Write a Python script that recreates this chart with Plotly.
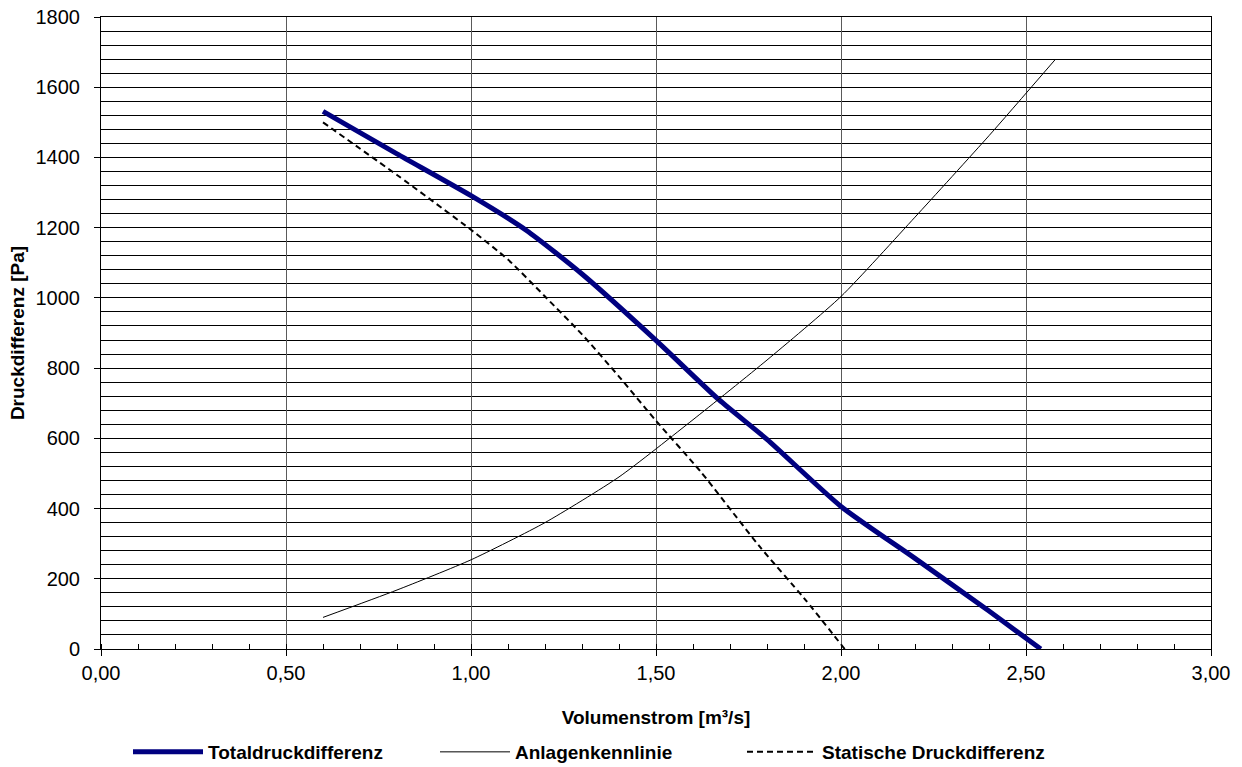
import plotly.graph_objects as go

# Totaldruckdifferenz
vol_total = [0.60, 0.80, 1.00, 1.15, 1.30, 1.50, 1.67, 1.80, 2.00, 2.20, 2.40, 2.54]
p_total = [1531, 1410, 1291, 1192, 1068, 879, 710, 597, 406, 258, 108, 0]

# Anlagenkennlinie
vol_anlage = [0.60, 0.80, 1.00, 1.20, 1.40, 1.60, 1.80, 2.00, 2.20, 2.40, 2.58]
p_anlage = [90, 168, 254, 360, 490, 653, 823, 1004, 1230, 1462, 1680]

# Statische Druckdifferenz
vol_static = [0.60, 0.80, 1.00, 1.10, 1.20, 1.30, 1.40, 1.50, 1.62, 1.78, 1.90, 2.01]
p_static = [1500, 1350, 1194, 1109, 1004, 896, 776, 650, 506, 292, 145, 0]

x_ticks = [0.0, 0.5, 1.0, 1.5, 2.0, 2.5, 3.0]
x_ticklabels = ["0,00", "0,50", "1,00", "1,50", "2,00", "2,50", "3,00"]

FONT = "Liberation Sans, Arial, sans-serif"

fig = go.Figure()
fig.add_trace(go.Scatter(x=vol_total, y=p_total, mode="lines", name="Totaldruckdifferenz",
                         line=dict(color="#000080", width=5, shape="spline", smoothing=0.6)))
fig.add_trace(go.Scatter(x=vol_anlage, y=p_anlage, mode="lines", name="Anlagenkennlinie",
                         line=dict(color="#000000", width=1, shape="spline", smoothing=0.6)))
fig.add_trace(go.Scatter(x=vol_static, y=p_static, mode="lines", name="Statische Druckdifferenz",
                         line=dict(color="#000000", width=2, dash="6px,4px", shape="spline", smoothing=0.6)))

fig.update_layout(
    width=1242, height=767,
    margin=dict(l=101, r=31, t=17, b=118, autoexpand=False),
    paper_bgcolor="white", plot_bgcolor="white",
    font=dict(family=FONT, size=20, color="black"),
    showlegend=True,
    legend=dict(orientation="h", xref="container", yref="container",
                x=(128 / 1242), xanchor="left", y=1 - 752 / 767, yanchor="middle",
                font=dict(family=FONT, size=19, weight="bold"),
                entrywidth=222, itemwidth=70, bgcolor="rgba(0,0,0,0)"),
)
fig.update_xaxes(
    range=[0, 3], tickvals=x_ticks, ticktext=x_ticklabels,
    showgrid=True, gridcolor="#5a5a5a", gridwidth=1,
    showline=True, linecolor="black", linewidth=1, mirror=True,
    ticks="outside", ticklen=6, tickcolor="black",
    tickfont=dict(family=FONT, size=20), ticklabeloverflow="allow",
    minor=dict(dtick=0.1, ticks="inside", ticklen=5, tickcolor="black", showgrid=False),
    title=dict(text="Volumenstrom [m³/s]", font=dict(family=FONT, size=19, weight="bold"), standoff=27),
    zeroline=False, automargin=False,
)
fig.update_yaxes(
    range=[0, 1800], dtick=200,
    showgrid=True, gridcolor="black", gridwidth=1,
    minor=dict(dtick=40, showgrid=True, gridcolor="black", gridwidth=1, ticks=""),
    showline=True, linecolor="black", linewidth=1, mirror=True,
    ticks="outside", ticklen=6, tickcolor="black",
    tickfont=dict(family=FONT, size=20), ticklabelstandoff=10, ticklabeloverflow="allow",
    title=dict(text="Druckdifferenz [Pa]", font=dict(family=FONT, size=19, weight="bold"), standoff=5),
    zeroline=False, automargin=False,
)

fig.write_html("out.html", config={"displayModeBar": False},
               post_script="document.body.style.margin='0';")
